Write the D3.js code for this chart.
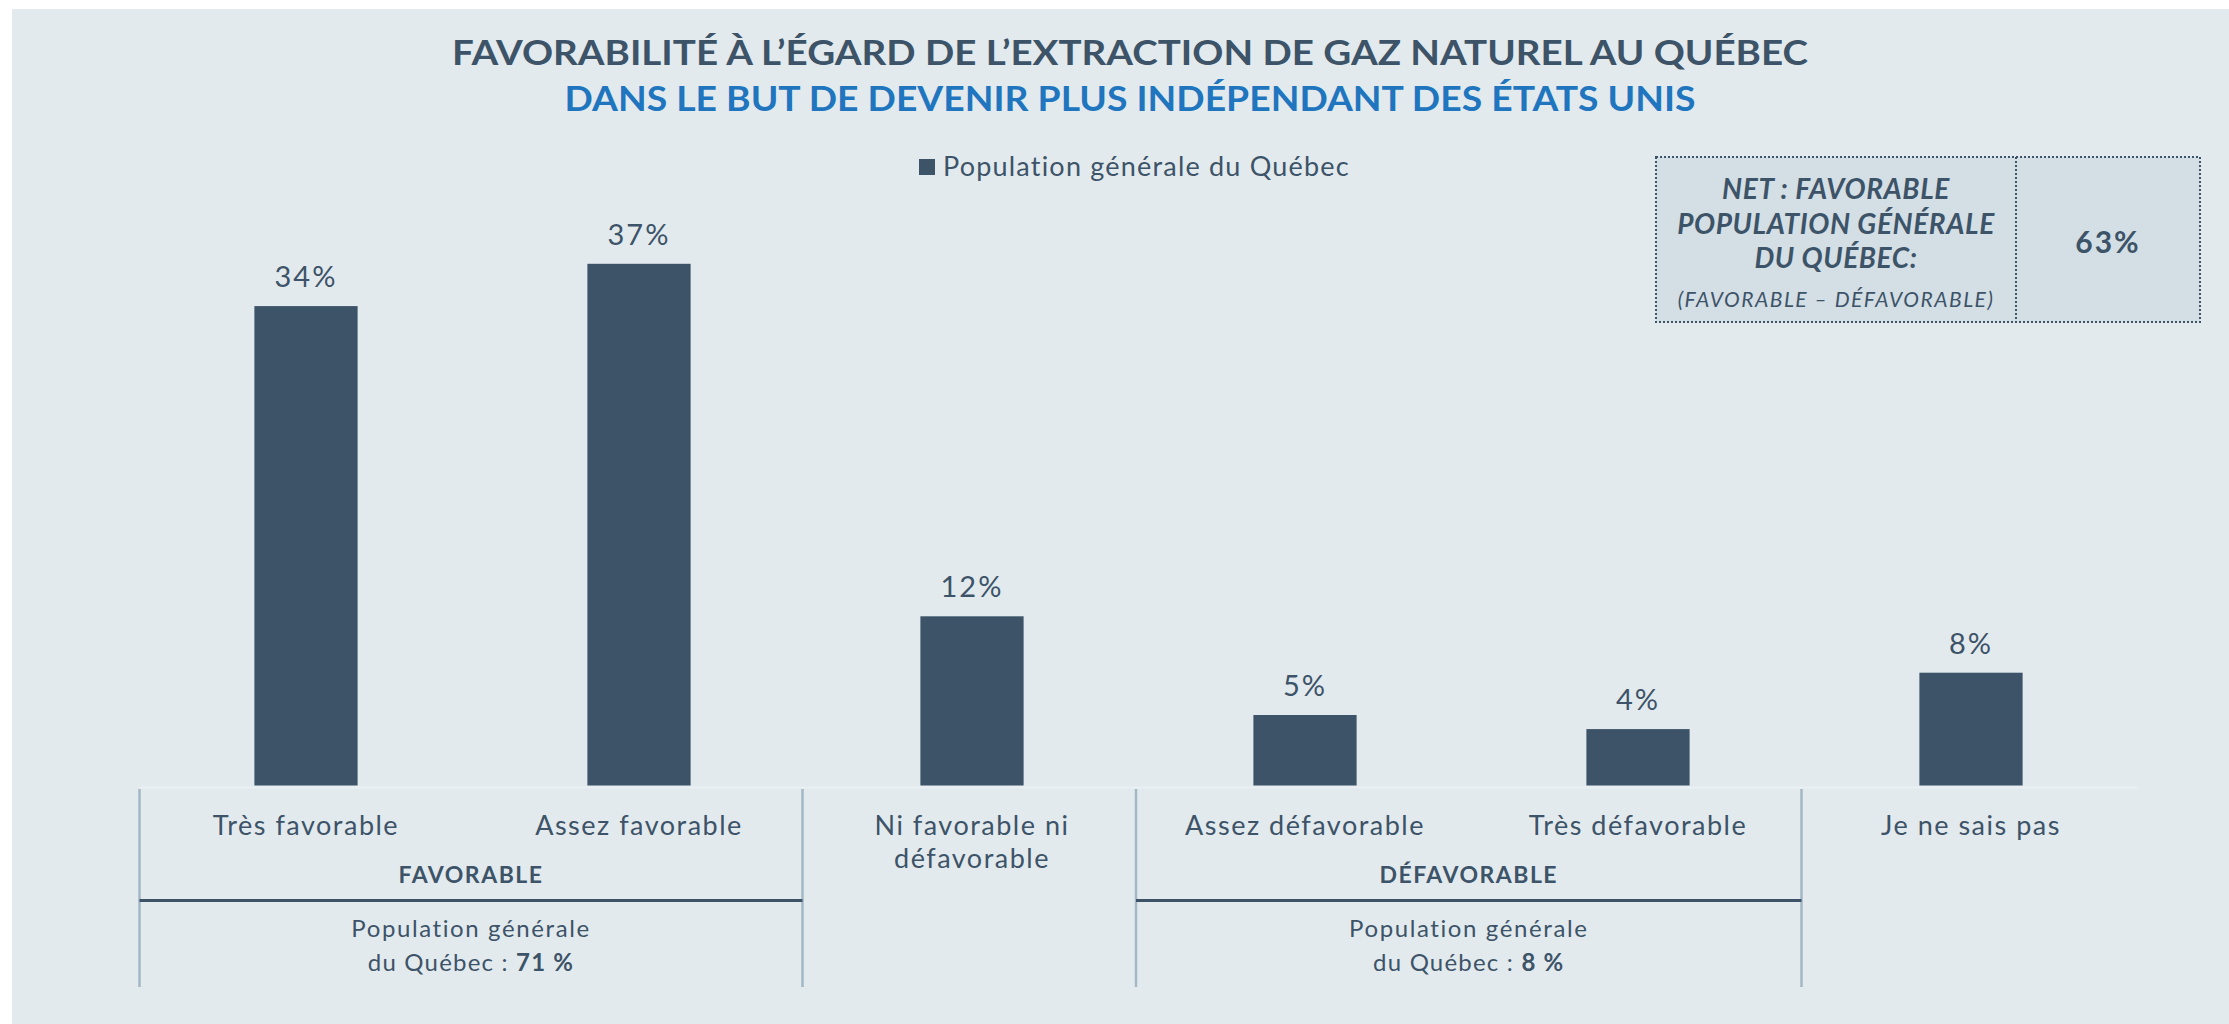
<!DOCTYPE html>
<html lang="fr">
<head>
    <meta charset="UTF-8">
    <title>Favorabilité - gaz naturel</title>
    <script src="https://cdnjs.cloudflare.com/ajax/libs/d3/7.8.5/d3.min.js"></script>
    <style>
        body { margin: 0; background: #ffffff; }
        text { font-family: Lato, "Open Sans", sans-serif; fill: #3d5368; }
    </style>
</head>
<body>
    <div id="chart"></div>
    <script>
        // data
        var categories = ['Très favorable', 'Assez favorable', 'Ni favorable ni défavorable',
                          'Assez défavorable', 'Très défavorable', 'Je ne sais pas'];
        var categoryLines = [['Très favorable'], ['Assez favorable'], ['Ni favorable ni', 'défavorable'],
                             ['Assez défavorable'], ['Très défavorable'], ['Je ne sais pas']];
        var values = [34, 37, 12, 5, 4, 8];
        var seriesName = 'Population générale du Québec';
        var groupNames = ['FAVORABLE', 'DÉFAVORABLE'];
        var groupSpans = [[0, 1], [3, 4]];
        var groupTotals = [71, 8];
        var netValue = 63;
        var titleLines = ['FAVORABILITÉ À L’ÉGARD DE L’EXTRACTION DE GAZ NATUREL AU QUÉBEC',
                          'DANS LE BUT DE DEVENIR PLUS INDÉPENDANT DES ÉTATS UNIS'];

        var w = 2229,
            h = 1024,
            barColor = '#3d5368',
            svg = d3.select('#chart')
                    .append('svg')
                    .attr('width', w)
                    .attr('height', h);

        svg.append('rect')
            .attr('x', 12).attr('y', 9)
            .attr('width', w - 12).attr('height', h - 9)
            .attr('fill', '#e2eaee');

        // TITLE
        svg.append('text')
            .attr('x', 1130).attr('y', 65)
            .attr('text-anchor', 'middle')
            .attr('textLength', 1356)
            .attr('lengthAdjust', 'spacingAndGlyphs')
            .style('font-size', '35px')
            .style('font-weight', 'bold')
            .text(titleLines[0]);
        svg.append('text')
            .attr('x', 1130).attr('y', 111)
            .attr('text-anchor', 'middle')
            .attr('textLength', 1131)
            .attr('lengthAdjust', 'spacingAndGlyphs')
            .style('font-size', '35px')
            .style('font-weight', 'bold')
            .style('fill', '#1f75be')
            .text(titleLines[1]);

        // LEGEND
        svg.append('rect')
            .attr('x', 919).attr('y', 159)
            .attr('width', 16).attr('height', 16)
            .attr('fill', barColor);
        svg.append('text')
            .attr('x', 943).attr('y', 176)
            .style('font-size', '27px')
            .style('letter-spacing', '1.2px')
            .text(seriesName);

        // SCALES
        var x = d3.scaleBand()
                  .domain(categories)
                  .range([139.5, 2137.5])
                  .paddingInner(0.69)
                  .paddingOuter(0.345);
        var y = d3.scaleLinear()
                  .domain([0, 37])
                  .range([785.5, 263.8]);
        var stepLeft = (i) => x(categories[i]) - (x.step() - x.bandwidth()) / 2;
        var stepRight = (i) => stepLeft(i) + x.step();

        // faint baseline
        svg.append('line')
            .attr('x1', stepLeft(0)).attr('x2', stepRight(categories.length - 1))
            .attr('y1', y(0) + 2).attr('y2', y(0) + 2)
            .attr('stroke', '#eaf0f3')
            .attr('stroke-width', 2);

        // BARS
        svg.selectAll('.bar')
            .data(values)
            .enter()
            .append('rect')
            .attr('class', 'bar')
            .attr('x', (d, i) => x(categories[i]))
            .attr('y', (d) => y(d))
            .attr('width', x.bandwidth())
            .attr('height', (d) => y(0) - y(d))
            .attr('fill', barColor);

        svg.selectAll('.val')
            .data(values)
            .enter()
            .append('text')
            .attr('class', 'val')
            .attr('x', (d, i) => x(categories[i]) + x.bandwidth() / 2)
            .attr('y', (d) => y(d) - 19)
            .attr('text-anchor', 'middle')
            .style('font-size', '29px')
            .style('letter-spacing', '2px')
            .text((d) => d + '%');

        // CATEGORY LABELS
        categoryLines.forEach((lines, i) => {
            var t = svg.append('text')
                .attr('x', x(categories[i]) + x.bandwidth() / 2)
                .attr('y', 835)
                .attr('text-anchor', 'middle')
                .style('font-size', '27px')
                .style('letter-spacing', '1.5px');
            lines.forEach((l, j) => {
                t.append('tspan')
                    .attr('x', x(categories[i]) + x.bandwidth() / 2)
                    .attr('dy', j === 0 ? 0 : 33)
                    .text(l);
            });
        });

        // GROUPS
        groupSpans.forEach((span, g) => {
            var x0 = stepLeft(span[0]) - (span[0] > 0 ? 2.5 : 0),
                x1 = stepRight(span[1]) - 3,
                cx = (x0 + x1) / 2;
            [x0, x1].forEach((xx) => {
                svg.append('line')
                    .attr('x1', xx).attr('x2', xx)
                    .attr('y1', 789).attr('y2', 987)
                    .attr('stroke', '#a3b7c5')
                    .attr('stroke-width', 2.5);
            });
            svg.append('line')
                .attr('x1', x0).attr('x2', x1)
                .attr('y1', 900.5).attr('y2', 900.5)
                .attr('stroke', barColor)
                .attr('stroke-width', 3);
            svg.append('text')
                .attr('x', cx).attr('y', 883)
                .attr('text-anchor', 'middle')
                .style('font-size', '23px')
                .style('font-weight', 'bold')
                .style('letter-spacing', '1.5px')
                .text(groupNames[g]);
            svg.append('text')
                .attr('x', cx).attr('y', 937)
                .attr('text-anchor', 'middle')
                .style('font-size', '24px')
                .style('letter-spacing', '1.6px')
                .text('Population générale');
            var tt = svg.append('text')
                .attr('x', cx).attr('y', 971)
                .attr('text-anchor', 'middle')
                .style('font-size', '24px')
                .style('letter-spacing', '1.2px');
            tt.append('tspan').text('du Québec : ');
            tt.append('tspan').style('font-weight', 'bold').text(groupTotals[g] + ' %');
        });

        // NET BOX
        var box = svg.append('g');
        box.append('rect')
            .attr('x', 1656).attr('y', 157)
            .attr('width', 544).attr('height', 165)
            .attr('fill', '#d3dee5')
            .attr('stroke', barColor)
            .attr('stroke-width', 2)
            .attr('stroke-dasharray', '2,2');
        box.append('line')
            .attr('x1', 2016).attr('x2', 2016)
            .attr('y1', 157).attr('y2', 322)
            .attr('stroke', barColor)
            .attr('stroke-width', 2)
            .attr('stroke-dasharray', '2,2');
        ['NET : FAVORABLE', 'POPULATION GÉNÉRALE', 'DU QUÉBEC:'].forEach((l, i) => {
            box.append('text')
                .attr('x', 1836).attr('y', 199 + i * 34.5)
                .attr('text-anchor', 'middle')
                .style('font-size', '28px')
                .style('font-weight', 'bold')
                .style('font-style', 'italic')
                .style('letter-spacing', '0.6px')
                .text(l);
        });
        box.append('text')
            .attr('x', 1836).attr('y', 307)
            .attr('text-anchor', 'middle')
            .style('font-size', '21px')
            .style('font-style', 'italic')
            .style('letter-spacing', '1.5px')
            .text('(FAVORABLE – DÉFAVORABLE)');
        box.append('text')
            .attr('x', 2108).attr('y', 253)
            .attr('text-anchor', 'middle')
            .style('font-size', '30px')
            .style('font-weight', 'bold')
            .style('letter-spacing', '2px')
            .text(netValue + '%');
    </script>
</body>
</html>
